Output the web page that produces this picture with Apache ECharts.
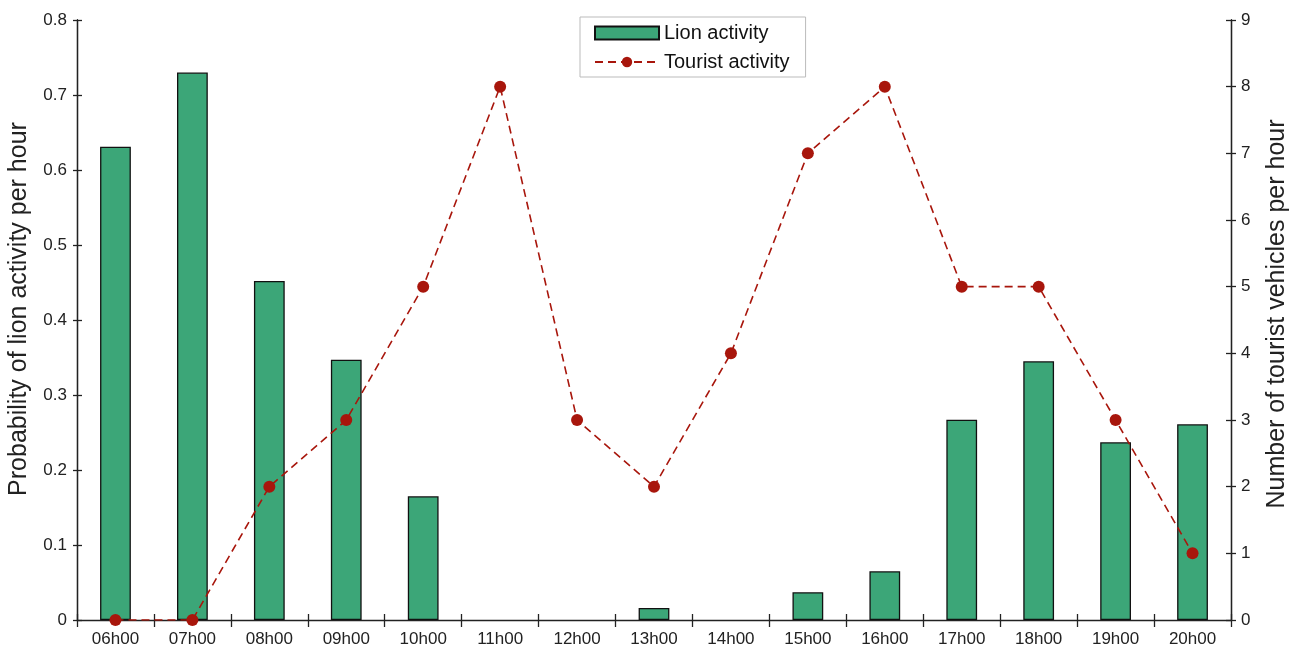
<!DOCTYPE html>
<html>
<head>
<meta charset="utf-8">
<script src="https://cdn.jsdelivr.net/npm/echarts@6/dist/echarts.min.js"></script>
<style>html,body{margin:0;padding:0;background:#fff}#c{width:1296px;height:655px}</style>
</head>
<body>
<div id="c"></div>
<script>
const categories = ['06h00','07h00','08h00','09h00','10h00','11h00','12h00','13h00','14h00','15h00','16h00','17h00','18h00','19h00','20h00'];
const lionActivity = [0.631, 0.730, 0.452, 0.347, 0.165, 0, 0, 0.016, 0, 0.037, 0.065, 0.267, 0.345, 0.237, 0.261];
const touristActivity = [0, 0, 2, 3, 5, 8, 3, 2, 4, 7, 8, 5, 5, 3, 1];
const leftTicks = [0, 0.8, 0.1];
const rightTicks = [0, 9, 1];

const FONT = 'Liberation Sans, Arial, sans-serif';
const axisCol = '#222';
const chart = echarts.init(document.getElementById('c'), null, {renderer: 'canvas'});
const baseY = {
  type: 'value', splitLine: {show: false},
  axisLine: {show: true, lineStyle: {color: axisCol, width: 1.3}},
  axisLabel: {color: '#222', fontFamily: FONT, fontSize: 17, margin: 10},
  nameLocation: 'middle'
};
chart.setOption({
  animation: false,
  grid: {left: 77, right: 65, top: 20, bottom: 35, containLabel: false, outerBoundsMode: 'none'},
  legend: {
    orient: 'vertical', left: 580, top: 17,
    padding: [6, 16, 5, 14], itemGap: 9,
    borderColor: '#bbb', borderWidth: 1,
    itemWidth: 64, itemHeight: 13,
    textStyle: {fontFamily: FONT, fontSize: 20, color: '#111'},
    data: [{name: 'Lion activity', icon: 'rect'}, {name: 'Tourist activity'}]
  },
  xAxis: [{
    type: 'category', data: categories, position: 'bottom',
    axisLine: {lineStyle: {color: axisCol, width: 1.3}},
    axisTick: {show: true, inside: false, length: 7, lineStyle: {color: axisCol, width: 1.3}},
    axisLabel: {color: '#222', fontFamily: FONT, fontSize: 17, margin: 11}
  }, {
    type: 'category', data: categories, position: 'bottom',
    axisLine: {show: false},
    axisTick: {show: true, inside: true, length: 6, lineStyle: {color: axisCol, width: 1.3}},
    axisLabel: {show: false}
  }],
  yAxis: [
    Object.assign({}, baseY, {
      position: 'left', min: leftTicks[0], max: leftTicks[1], interval: leftTicks[2],
      name: 'Probability of lion activity per hour', nameGap: 45,
      nameTextStyle: {color: '#222', fontFamily: FONT, fontSize: 25, padding: [0, 0, 0, 22]},
      axisTick: {show: true, inside: false, length: 4, lineStyle: {color: axisCol, width: 1.3}}
    }),
    Object.assign({}, baseY, {
      position: 'right', min: rightTicks[0], max: rightTicks[1], interval: rightTicks[2],
      name: 'Number of tourist vehicles per hour', nameGap: 34, nameRotate: 90,
      nameTextStyle: {color: '#222', fontFamily: FONT, fontSize: 25, padding: [0, 0, 0, 12]},
      axisTick: {show: true, inside: false, length: 5, lineStyle: {color: axisCol, width: 1.3}}
    }),
    Object.assign({}, baseY, {
      position: 'left', min: leftTicks[0], max: leftTicks[1], interval: leftTicks[2],
      axisLabel: {show: false},
      axisTick: {show: true, inside: true, length: 5, lineStyle: {color: axisCol, width: 1.3}}
    }),
    Object.assign({}, baseY, {
      position: 'right', min: rightTicks[0], max: rightTicks[1], interval: rightTicks[2],
      axisLabel: {show: false},
      axisTick: {show: true, inside: true, length: 5, lineStyle: {color: axisCol, width: 1.3}}
    })
  ],
  series: [{
    name: 'Lion activity', type: 'bar', data: lionActivity.map(v => v === 0 ? null : v),
    xAxisIndex: 0, yAxisIndex: 0, barWidth: '40%',
    itemStyle: {color: '#3ca678', borderColor: '#111', borderWidth: 1.3}
  }, {
    name: 'Tourist activity', type: 'line', data: touristActivity,
    xAxisIndex: 0, yAxisIndex: 1,
    symbol: 'circle', symbolSize: 12,
    lineStyle: {color: '#a8160c', width: 1.6, type: [8, 5]},
    itemStyle: {color: '#a8160c'}
  }]
});
</script>
</body>
</html>
